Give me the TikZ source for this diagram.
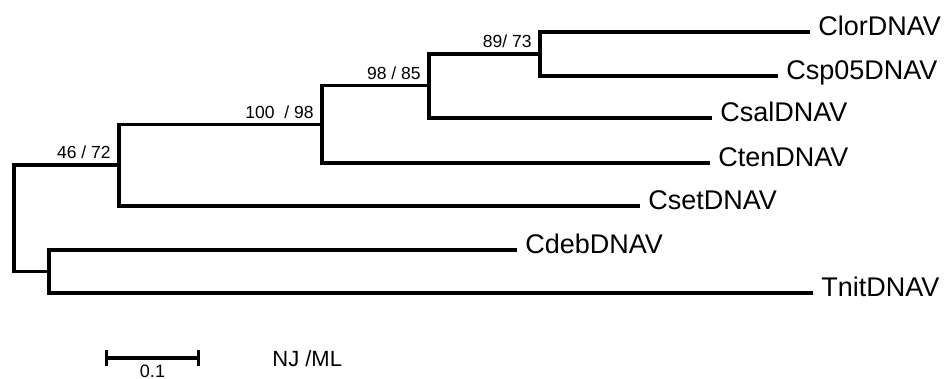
\documentclass[tikz,border=0pt]{standalone}
\usepackage{fontspec}
\setmainfont{Liberation Sans}
\usetikzlibrary{arrows.meta}
\tikzset{
  br/.style={line width=1.7pt},
  leaf/.style={anchor=base west, inner sep=0pt, xshift=4pt, yshift=-1.75pt, font=\fontsize{13.5}{16}\selectfont},
  boot/.style={anchor=base east, inner sep=0pt, xshift=-4pt, yshift=3pt, font=\fontsize{8.75}{10}\selectfont},
  lbl/.style={inner sep=0pt, font=\fontsize{11}{13}\selectfont}
}

\begin{document}
\begin{tikzpicture}[x=0.5pt, y=-0.5pt]
    \useasboundingbox (0,0) rectangle (946,379);

    % internal nodes
    \coordinate (root) at (14,218.5);
    \coordinate (n1) at (119,165);
    \coordinate (n2) at (322,124.5);
    \coordinate (n3) at (429,85.5);
    \coordinate (n4) at (540,54);
    \coordinate (n5) at (49,271.5);

    % tips
    \coordinate (clor) at (810,32);
    \coordinate (csp) at (778,76);
    \coordinate (csal) at (712,118);
    \coordinate (cten) at (710,163);
    \coordinate (cset) at (640,206);
    \coordinate (cdeb) at (517,250);
    \coordinate (tnit) at (813,293);

    % branches
    \draw[br] (root) |- (n1);
    \draw[br] (root) |- (n5);
    \draw[br] (n1) |- (n2);
    \draw[br] (n1) |- (cset);
    \draw[br] (n2) |- (n3);
    \draw[br] (n2) |- (cten);
    \draw[br] (n3) |- (n4);
    \draw[br] (n3) |- (csal);
    \draw[br] (n4) |- (clor);
    \draw[br] (n4) |- (csp);
    \draw[br] (n5) |- (cdeb);
    \draw[br] (n5) |- (tnit);

    % taxa
    \node[leaf] (clorlbl) at (clor) {ClorDNAV};
    \node[leaf] (csplbl) at (csp) {Csp05DNAV};
    \node[leaf] (csallbl) at (csal) {CsalDNAV};
    \node[leaf] (ctenlbl) at (cten) {CtenDNAV};
    \node[leaf] (csetlbl) at (cset) {CsetDNAV};
    \node[leaf] (cdeblbl) at (cdeb) {CdebDNAV};
    \node[leaf] (tnitlbl) at (tnit) {TnitDNAV};

    % support values
    \node[boot] (b1) at (n1) {46 / 72};
    \node[boot] (b2) at (n2) {100\ \ / 98};
    \node[boot] (b3) at (n3) {98 / 85};
    \node[boot] (b4) at (n4) {89/ 73};

    % scale bar
    \coordinate (sb0) at (105,358);
    \coordinate (sb1) at (200,358);
    \draw[br, {Bar[width=8pt]}-{Bar[width=8pt]}] (sb0) -- (sb1);
    \node[lbl, anchor=north, font=\fontsize{9}{11}\selectfont] (sblbl) at (152.5,365) {0.1};
    \node[lbl, anchor=base west] (method) at (272,366) {NJ /ML};
\end{tikzpicture}
\end{document}
